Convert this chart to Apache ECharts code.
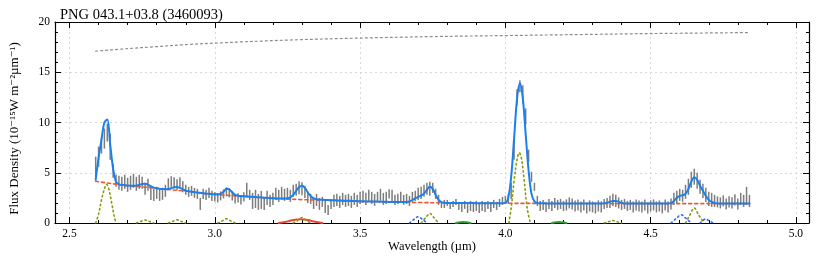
<!DOCTYPE html>
<html><head><meta charset="utf-8">
<script src="https://cdn.jsdelivr.net/npm/echarts@6/dist/echarts.min.js"></script>
<style>html,body{margin:0;padding:0;background:#fff}#c{width:830px;height:256px}</style>
</head><body><div id="c"></div><script>
const titleText = 'PNG 043.1+03.8 (3460093)';
const xTicks = [2.5,3.0,3.5,4.0,4.5,5.0];
const xMinorTicks = [2.5,2.6,2.7,2.8,2.9,3.0,3.1,3.2,3.3,3.4,3.5,3.6,3.7,3.8,3.9,4.0,4.1,4.2,4.3,4.4,4.5,4.6,4.7,4.8,4.9,5.0];
const wl = [
2.59,2.60,2.61,2.62,2.63,2.64,2.65,2.66,2.67,2.68,
2.69,2.70,2.71,2.72,2.73,2.74,2.75,2.76,2.77,2.78,
2.79,2.80,2.81,2.82,2.83,2.84,2.85,2.86,2.87,2.88,
2.89,2.90,2.91,2.92,2.93,2.94,2.95,2.96,2.97,2.98,
2.99,3.00,3.01,3.02,3.03,3.04,3.05,3.06,3.07,3.08,
3.09,3.10,3.11,3.12,3.13,3.14,3.15,3.16,3.17,3.18,
3.19,3.20,3.21,3.22,3.23,3.24,3.25,3.26,3.27,3.28,
3.29,3.30,3.31,3.32,3.33,3.34,3.35,3.36,3.37,3.38,
3.39,3.40,3.41,3.42,3.43,3.44,3.45,3.46,3.47,3.48,
3.49,3.50,3.51,3.52,3.53,3.54,3.55,3.56,3.57,3.58,
3.59,3.60,3.61,3.62,3.63,3.64,3.65,3.66,3.67,3.68,
3.69,3.70,3.71,3.72,3.73,3.74,3.75,3.76,3.77,3.78,
3.79,3.80,3.81,3.82,3.83,3.84,3.85,3.86,3.87,3.88,
3.89,3.90,3.91,3.92,3.93,3.94,3.95,3.96,3.97,3.98,
3.99,4.00,4.01,4.02,4.03,4.04,4.05,4.06,4.07,4.08,
4.09,4.10,4.11,4.12,4.13,4.14,4.15,4.16,4.17,4.18,
4.19,4.20,4.21,4.22,4.23,4.24,4.25,4.26,4.27,4.28,
4.29,4.30,4.31,4.32,4.33,4.34,4.35,4.36,4.37,4.38,
4.39,4.40,4.41,4.42,4.43,4.44,4.45,4.46,4.47,4.48,
4.49,4.50,4.51,4.52,4.53,4.54,4.55,4.56,4.57,4.58,
4.59,4.60,4.61,4.62,4.63,4.64,4.65,4.66,4.67,4.68,
4.69,4.70,4.71,4.72,4.73,4.74,4.75,4.76,4.77,4.78,
4.79,4.80,4.81,4.82,4.83,4.84];
const flux = [
5.6,6.6,7.7,8.4,9.0,7.6,5.2,4.2,4.0,3.9,
4.1,3.8,4.0,4.2,3.9,4.1,4.0,3.4,3.8,2.9,
2.8,3.0,2.8,2.9,3.2,3.9,4.1,4.0,3.8,4.0,
3.6,3.3,3.1,3.2,3.0,2.9,1.9,2.9,2.8,3.0,
2.7,2.6,2.5,2.7,2.9,3.1,3.0,2.7,2.4,2.5,
2.3,2.6,3.3,2.8,2.2,2.4,2.1,2.3,1.9,2.5,
2.2,2.4,2.9,2.7,3.0,2.8,2.9,2.7,3.2,3.3,
3.5,3.4,3.1,2.5,2.4,2.0,2.3,1.9,2.1,1.6,
1.3,1.9,2.2,2.3,2.1,2.4,2.2,2.3,2.1,2.4,
2.2,2.5,2.6,2.4,2.7,2.5,2.3,2.6,2.8,2.4,
2.5,2.9,2.7,2.3,2.4,2.6,2.3,2.4,2.2,2.6,
2.7,2.9,3.0,3.2,3.4,3.4,3.5,2.9,2.3,1.8,
1.9,2.0,1.7,1.9,2.1,1.7,1.6,1.8,1.5,1.7,
1.6,1.7,1.5,1.7,1.6,1.8,1.6,1.9,1.7,2.0,
2.2,2.3,2.4,3.2,7.3,12.5,13.6,12.8,10.6,6.7,
4.6,3.6,2.2,1.7,1.8,1.6,1.9,1.7,2.0,1.8,
1.9,1.7,1.8,2.0,1.9,1.7,1.8,1.6,1.8,1.5,
1.7,1.6,1.5,1.7,1.6,1.9,2.0,2.1,2.3,2.2,
2.0,1.8,1.9,1.7,1.8,1.6,1.8,1.7,1.6,1.8,
1.5,1.7,1.8,1.6,1.7,1.5,1.8,1.6,1.9,2.4,
2.6,2.8,2.7,3.1,3.6,4.3,4.6,4.2,3.6,3.2,
2.8,2.4,2.3,2.2,2.1,2.0,2.2,1.9,2.1,2.0,
2.3,1.9,2.4,2.2,2.7,2.2];
const fluxErr = [
1.0,1.0,0.8,1.0,0.9,1.3,0.7,0.6,0.7,0.7,
0.7,0.7,0.7,0.7,0.7,0.7,0.6,0.6,0.6,0.6,
0.6,0.6,0.6,0.6,0.6,0.55,0.55,0.55,0.55,0.55,
0.55,0.5,0.5,0.5,0.5,0.5,0.6,0.5,0.5,0.5,
0.5,0.45,0.45,0.45,0.45,0.45,0.45,0.45,0.45,0.45,
0.45,0.45,0.7,0.5,0.8,0.9,0.8,0.9,0.6,0.7,
0.6,0.6,0.6,0.6,0.6,0.6,0.6,0.6,0.6,0.6,
0.65,0.65,0.6,0.5,0.5,0.6,0.6,0.6,0.5,0.6,
0.5,0.5,0.6,0.6,0.6,0.6,0.6,0.6,0.6,0.6,
0.6,0.6,0.6,0.6,0.6,0.6,0.6,0.5,0.6,0.6,
0.6,0.45,0.6,0.5,0.5,0.5,0.5,0.5,0.5,0.5,
0.5,0.6,0.6,0.6,0.6,0.7,0.5,0.5,0.5,0.3,
0.4,0.3,0.3,0.3,0.3,0.4,0.5,0.4,0.5,0.5,
0.5,0.5,0.5,0.5,0.5,0.4,0.5,0.4,0.4,0.4,
0.4,0.4,0.5,0.8,1.0,0.8,0.6,0.9,0.8,0.6,
0.5,0.4,0.5,0.5,0.5,0.5,0.5,0.5,0.5,0.5,
0.5,0.5,0.55,0.55,0.55,0.55,0.55,0.55,0.55,0.55,
0.55,0.55,0.55,0.55,0.55,0.5,0.5,0.6,0.6,0.6,
0.55,0.5,0.5,0.5,0.5,0.55,0.55,0.55,0.55,0.55,
0.55,0.55,0.55,0.55,0.55,0.55,0.55,0.55,0.55,0.6,
0.6,0.6,0.6,0.7,0.8,0.8,0.8,0.8,0.7,0.7,
0.7,0.7,0.7,0.6,0.55,0.55,0.55,0.55,0.55,0.55,
0.55,0.55,0.6,0.6,0.9,0.6];
const model = [
4.3,6.5,8.3,10.0,10.3,7.8,5.4,4.1,3.85,3.8,
3.76,3.73,3.71,3.7,3.72,3.8,3.88,3.9,3.82,3.66,
3.52,3.46,3.41,3.38,3.36,3.38,3.45,3.55,3.58,3.5,
3.35,3.22,3.16,3.11,3.07,3.03,3.0,2.96,2.93,2.9,
2.88,2.86,2.85,2.9,3.1,3.4,3.35,3.05,2.8,2.72,
2.68,2.66,2.64,2.62,2.6,2.58,2.56,2.54,2.52,2.5,
2.48,2.46,2.45,2.44,2.43,2.43,2.46,2.56,2.8,3.2,
3.55,3.7,3.5,3.05,2.66,2.45,2.36,2.33,2.31,2.29,
2.28,2.27,2.26,2.25,2.24,2.23,2.22,2.21,2.2,2.19,
2.18,2.17,2.16,2.15,2.15,2.14,2.13,2.13,2.12,2.11,
2.11,2.1,2.1,2.09,2.09,2.08,2.08,2.1,2.15,2.28,
2.45,2.6,2.72,2.92,3.3,3.6,3.4,2.8,2.3,2.08,
2.02,2.0,2.0,2.0,1.99,1.99,1.99,1.98,1.98,1.98,
1.98,1.97,1.97,1.97,1.97,1.97,1.97,1.97,1.97,1.97,
1.97,2.0,2.5,4.6,8.4,12.3,13.9,12.4,8.8,5.2,
2.9,2.15,1.98,1.96,1.96,1.95,1.95,1.95,1.95,1.95,
1.95,1.95,1.94,1.94,1.94,1.94,1.94,1.94,1.94,1.94,
1.94,1.94,1.94,1.94,1.94,1.96,2.02,2.12,2.2,2.2,
2.1,2.0,1.95,1.94,1.93,1.93,1.93,1.93,1.93,1.93,
1.93,1.93,1.93,1.93,1.93,1.93,1.93,1.93,2.0,2.2,
2.5,2.7,2.75,2.9,3.4,4.1,4.55,4.3,3.7,3.2,
2.7,2.3,2.1,2.0,1.95,1.94,1.93,1.93,1.93,1.93,
1.93,1.93,1.93,1.93,1.93,1.93];
const contWl  = [2.59,2.65,2.70,2.75,2.80,2.85,2.90,2.95,3.00,3.05,3.10,3.20,3.30,3.40,3.50,3.60,3.70,3.80,3.90,4.00,4.20,4.50,4.84];
const contVal = [4.15,3.9,3.72,3.6,3.45,3.3,3.18,2.98,2.84,2.74,2.64,2.45,2.33,2.25,2.15,2.09,2.04,2.0,1.97,1.96,1.94,1.93,1.93];
const topWl  = [2.59,2.7,2.8,2.9,3.0,3.25,3.5,3.75,4.0,4.25,4.5,4.84];
const topVal = [17.1,17.35,17.55,17.75,17.9,18.2,18.4,18.55,18.65,18.75,18.85,18.95];
// olive dotted components
const ol1Wl = [2.59,2.60,2.61,2.62,2.627,2.635,2.645,2.655,2.66];
const ol1Val = [0,0.9,2.3,3.4,3.85,3.4,2.0,0.5,0];
const ol2Wl = [2.73,2.745,2.76,2.775,2.79];   const ol2Val = [0,0.15,0.3,0.15,0];
const ol3Wl = [2.84,2.855,2.87,2.885,2.90];   const ol3Val = [0,0.15,0.32,0.15,0];
const ol4Wl = [3.01,3.025,3.04,3.055,3.07];   const ol4Val = [0,0.2,0.42,0.2,0];
const ol5Wl = [3.27,3.285,3.30,3.315,3.33];   const ol5Val = [0,0.25,0.55,0.25,0];
const ol6Wl = [3.71,3.725,3.74,3.755,3.77];   const ol6Val = [0,0.5,0.95,0.5,0];
const ol7Wl = [4.012,4.02,4.03,4.04,4.048,4.056,4.065,4.075,4.086];
const ol7Val = [0,1.5,4.2,6.3,7.0,6.3,4.2,1.5,0];
const ol8Wl = [4.34,4.355,4.37,4.385,4.40];   const ol8Val = [0,0.12,0.25,0.12,0];
const ol9Wl = [4.62,4.635,4.65,4.665,4.685];  const ol9Val = [0,0.8,1.5,0.8,0];
// blue dotted components
const bl1Wl = [3.67,3.685,3.70,3.715,3.73];   const bl1Val = [0,0.35,0.62,0.35,0];
const bl2Wl = [4.57,4.59,4.605,4.62,4.64];    const bl2Val = [0,0.5,0.82,0.5,0];
const bl3Wl = [4.67,4.68,4.69,4.70,4.715];    const bl3Val = [0,0.25,0.42,0.25,0];
// red solid component
const redWl = [3.22,3.25,3.27,3.295,3.32,3.345,3.37]; const redVal = [0,0.15,0.3,0.38,0.3,0.12,0];
// green solid components
const gr1Wl = [3.83,3.845,3.855,3.865,3.88]; const gr1Val = [0,0.07,0.1,0.07,0];
const gr2Wl = [4.16,4.175,4.185,4.195,4.21]; const gr2Val = [0,0.07,0.1,0.07,0];

const zip = (a, b) => a.map((v, i) => [v, b[i]]);
const FONT = '"Liberation Serif", "DejaVu Serif", serif';

function lineSeries(xs, ys, color, type, width, z) {
  return { type: 'line', data: zip(xs, ys), symbol: 'none', smooth: 0.35, z: z,
    lineStyle: { color: color, width: width, type: type, cap: 'round' }, silent: true };
}

const xBase = { type: 'value', min: 2.45, max: 5.045, gridIndex: 0 };
const chart = echarts.init(document.getElementById('c'), null, { renderer: 'canvas' });
chart.setOption({
  animation: false,
  backgroundColor: '#ffffff',
  title: { text: titleText, left: 55, top: 3, textStyle: { fontFamily: FONT, fontSize: 14.5, fontWeight: 'normal', color: '#000' } },
  grid: { left: 55, right: 21, top: 22, bottom: 33, containLabel: false, outerBoundsMode: 'none' },
  xAxis: [
    Object.assign({}, xBase, {
      position: 'bottom', name: 'Wavelength (\u00b5m)', nameLocation: 'middle', nameGap: 17, nameMoveOverlap: false,
      nameTextStyle: { fontFamily: FONT, fontSize: 12.5, color: '#000' },
      axisLine: { show: true, lineStyle: { color: '#000', width: 1.2 } },
      axisTick: { show: true, inside: true, length: 6, customValues: xTicks, lineStyle: { color: '#000' } },
      axisLabel: { customValues: xTicks, formatter: v => v.toFixed(1), fontFamily: FONT, fontSize: 11.5, color: '#000', margin: 5 },
      splitLine: { show: true, lineStyle: { color: '#d8d8d8', type: [2, 3], width: 1 } }
    }),
    Object.assign({}, xBase, {
      position: 'bottom', axisLine: { show: false },
      axisTick: { show: true, inside: true, length: 3, customValues: xMinorTicks, lineStyle: { color: '#000' } },
      axisLabel: { show: false }, splitLine: { show: false }
    }),
    Object.assign({}, xBase, {
      position: 'top', axisLine: { show: true, lineStyle: { color: '#000', width: 1.2 } },
      axisTick: { show: true, inside: true, length: 6, customValues: xTicks, lineStyle: { color: '#000' } },
      axisLabel: { show: false }, splitLine: { show: false }
    }),
    Object.assign({}, xBase, {
      position: 'top', axisLine: { show: false },
      axisTick: { show: true, inside: true, length: 3, customValues: xMinorTicks, lineStyle: { color: '#000' } },
      axisLabel: { show: false }, splitLine: { show: false }
    })
  ],
  yAxis: [
    { type: 'value', min: 0, max: 20, interval: 5, position: 'left',
      name: 'Flux Density (10\u207b\u00b9\u2075W m\u207b\u00b2\u00b5m\u207b\u00b9)', nameLocation: 'middle', nameGap: 34,
      nameTextStyle: { fontFamily: FONT, fontSize: 13, color: '#000', padding: [0, 12, 0, 0] },
      axisLine: { show: true, lineStyle: { color: '#000', width: 1.2 } },
      axisTick: { show: true, inside: true, length: 6, lineStyle: { color: '#000' } },
      minorTick: { show: true, splitNumber: 5, length: 3, lineStyle: { color: '#000' } },
      axisLabel: { fontFamily: FONT, fontSize: 11.5, color: '#000', margin: 5 },
      splitLine: { show: true, lineStyle: { color: '#d8d8d8', type: [2, 3], width: 1 } } },
    { type: 'value', min: 0, max: 20, interval: 5, position: 'right',
      axisLine: { show: true, lineStyle: { color: '#000', width: 1.2 } },
      axisTick: { show: true, inside: true, length: 6, lineStyle: { color: '#000' } },
      minorTick: { show: true, splitNumber: 5, length: 3, lineStyle: { color: '#000' } },
      axisLabel: { show: false }, splitLine: { show: false } }
  ],
  series: [
    lineSeries(topWl, topVal, '#8c8c8c', [2, 3], 1.2, 2),
    { type: 'custom', z: 3, silent: true,
      data: wl.map((w, i) => [w, flux[i], fluxErr[i]]),
      encode: { x: 0, y: 1 },
      renderItem: function (params, api) {
        const x = api.value(0), y = api.value(1), e = api.value(2);
        const p1 = api.coord([x, y - e]), p2 = api.coord([x, y + e]);
        return { type: 'line', shape: { x1: p1[0], y1: p1[1], x2: p2[0], y2: p2[1] },
          style: { stroke: '#7d7d7d', lineWidth: 1.5 } };
      } },
    lineSeries(contWl, contVal, '#f0582c', [3, 3], 1.6, 4),
    lineSeries(ol1Wl, ol1Val, '#8a9a10', [1.5, 3], 1.6, 5),
    lineSeries(ol2Wl, ol2Val, '#8a9a10', [1.5, 3], 1.6, 5),
    lineSeries(ol3Wl, ol3Val, '#8a9a10', [1.5, 3], 1.6, 5),
    lineSeries(ol4Wl, ol4Val, '#8a9a10', [1.5, 3], 1.6, 5),
    lineSeries(ol5Wl, ol5Val, '#8a9a10', [1.5, 3], 1.6, 6),
    lineSeries(ol6Wl, ol6Val, '#8a9a10', [1.5, 3], 1.6, 5),
    lineSeries(ol7Wl, ol7Val, '#8a9a10', [1.5, 3], 1.6, 5),
    lineSeries(ol8Wl, ol8Val, '#8a9a10', [1.5, 3], 1.6, 5),
    lineSeries(ol9Wl, ol9Val, '#8a9a10', [1.5, 3], 1.6, 5),
    lineSeries(bl1Wl, bl1Val, '#2a6ee8', [1.5, 3], 1.6, 5),
    lineSeries(bl2Wl, bl2Val, '#2a6ee8', [1.5, 3], 1.6, 5),
    lineSeries(bl3Wl, bl3Val, '#2a6ee8', [1.5, 3], 1.6, 5),
    lineSeries(redWl, redVal, '#e8473c', 'solid', 2, 5),
    lineSeries(gr1Wl, gr1Val, '#2ca02c', 'solid', 2, 5),
    lineSeries(gr2Wl, gr2Val, '#2ca02c', 'solid', 2, 5),
    lineSeries(wl, model, '#1a80ee', 'solid', 2, 7)
  ]
});
</script></body></html>
